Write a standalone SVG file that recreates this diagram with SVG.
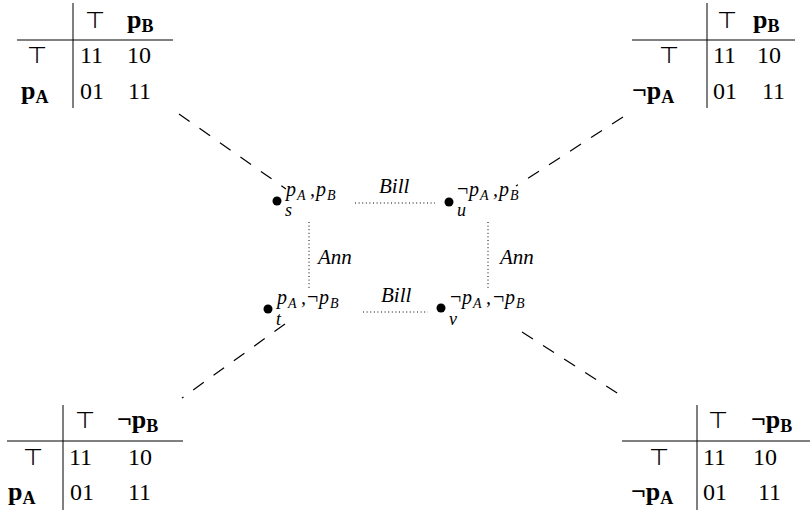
<svg xmlns="http://www.w3.org/2000/svg" width="810" height="513" viewBox="0 0 810 513">
<style>
text{font-family:'Liberation Serif','DejaVu Serif',serif;fill:#000}
.t{font-size:24px}
.top{font-family:'DejaVu Sans',sans-serif;font-size:23px;font-weight:200;text-anchor:middle}
.b{font-weight:bold;font-size:26px}
.bs{font-size:18px}
.rule{stroke:#000;stroke-width:1}
.dash{stroke:#000;stroke-width:1.2;stroke-dasharray:13 12;fill:none}
.dot{stroke:#000;stroke-width:1;stroke-dasharray:1 2.6;fill:none}
.lab{font-style:italic;font-size:20px}
.sub{font-size:14px}
.wn{font-style:italic;font-size:18px}
.ag{font-style:italic;font-size:21px}
</style>
<g id="table-tl">
<line class="rule" x1="73" y1="3" x2="73" y2="108"/>
<line class="rule" x1="17" y1="40" x2="173" y2="40"/>
<text class="top" x="95" y="28">⊤</text>
<text class="b" x="127" y="28">p<tspan class="bs" dy="4">B</tspan></text>
<text class="top" x="37" y="63">⊤</text>
<text class="t" x="80" y="63">11</text>
<text class="t" x="127" y="63">10</text>
<text class="b" x="21" y="99">p<tspan class="bs" dy="4">A</tspan></text>
<text class="t" x="80" y="99">01</text>
<text class="t" x="128" y="99">11</text>
</g>
<g id="table-tr">
<line class="rule" x1="707" y1="3" x2="707" y2="108"/>
<line class="rule" x1="632" y1="40" x2="795" y2="40"/>
<text class="top" x="727" y="28">⊤</text>
<text class="b" x="753" y="28">p<tspan class="bs" dy="4">B</tspan></text>
<text class="top" x="669" y="63">⊤</text>
<text class="t" x="713" y="63">11</text>
<text class="t" x="757" y="63">10</text>
<text class="b" x="632" y="99">¬p<tspan class="bs" dy="4">A</tspan></text>
<text class="t" x="713" y="99">01</text>
<text class="t" x="762" y="99">11</text>
</g>
<g id="table-bl">
<line class="rule" x1="63" y1="405" x2="63" y2="510"/>
<line class="rule" x1="7" y1="441" x2="183" y2="441"/>
<text class="top" x="85" y="428">⊤</text>
<text class="b" x="117" y="428">¬p<tspan class="bs" dy="4">B</tspan></text>
<text class="top" x="33" y="465">⊤</text>
<text class="t" x="69" y="465">11</text>
<text class="t" x="128" y="465">10</text>
<text class="b" x="8" y="500">p<tspan class="bs" dy="4">A</tspan></text>
<text class="t" x="70" y="500">01</text>
<text class="t" x="128" y="500">11</text>
</g>
<g id="table-br">
<line class="rule" x1="697" y1="405" x2="697" y2="510"/>
<line class="rule" x1="622" y1="441" x2="810" y2="441"/>
<text class="top" x="718" y="428">⊤</text>
<text class="b" x="751" y="428">¬p<tspan class="bs" dy="4">B</tspan></text>
<text class="top" x="659" y="465">⊤</text>
<text class="t" x="703" y="465">11</text>
<text class="t" x="753" y="465">10</text>
<text class="b" x="631" y="500">¬p<tspan class="bs" dy="4">A</tspan></text>
<text class="t" x="703" y="500">01</text>
<text class="t" x="758" y="500">11</text>
</g>
<g id="connectors">
<line class="dash" x1="179" y1="114" x2="286" y2="189"/>
<line class="dash" x1="623" y1="117" x2="516" y2="186"/>
<line class="dash" x1="285" y1="324" x2="182" y2="398"/>
<line class="dash" x1="522" y1="332" x2="625" y2="398"/>
<line class="dot" x1="355" y1="203" x2="435" y2="203"/>
<line class="dot" x1="363" y1="312" x2="428" y2="312"/>
<line class="dot" x1="309" y1="222" x2="309" y2="288"/>
<line class="dot" x1="488" y1="222" x2="488" y2="288"/>
<text class="ag" x="379" y="193">Bill</text>
<text class="ag" x="381" y="302">Bill</text>
<text class="ag" x="318" y="264">Ann</text>
<text class="ag" x="500" y="264">Ann</text>
</g>
<g id="node-s">
<circle cx="277" cy="201" r="4.5"/>
<text class="lab" y="196"><tspan x="286">p</tspan><tspan class="sub" x="297" dy="4">A</tspan><tspan x="310" dy="-4">,</tspan><tspan x="316">p</tspan><tspan class="sub" x="327" dy="4">B</tspan></text>
<text class="wn" x="285" y="216">s</text>
</g>
<g id="node-u">
<circle cx="449" cy="202" r="4.5"/>
<text class="lab" y="196"><tspan x="457" font-style="normal">¬</tspan><tspan x="469">p</tspan><tspan class="sub" x="480" dy="4">A</tspan><tspan x="493" dy="-4">,</tspan><tspan x="499">p</tspan><tspan class="sub" x="510" dy="4">B</tspan></text>
<text class="wn" x="457" y="216">u</text>
</g>
<g id="node-t">
<circle cx="268" cy="309" r="4.5"/>
<text class="lab" y="304"><tspan x="277">p</tspan><tspan class="sub" x="288" dy="4">A</tspan><tspan x="301" dy="-4">,</tspan><tspan x="307" font-style="normal">¬</tspan><tspan x="319">p</tspan><tspan class="sub" x="330" dy="4">B</tspan></text>
<text class="wn" x="276" y="325">t</text>
</g>
<g id="node-v">
<circle cx="441" cy="308" r="4.5"/>
<text class="lab" y="304"><tspan x="450" font-style="normal">¬</tspan><tspan x="462">p</tspan><tspan class="sub" x="473" dy="4">A</tspan><tspan x="486" dy="-4">,</tspan><tspan x="493" font-style="normal">¬</tspan><tspan x="505">p</tspan><tspan class="sub" x="516" dy="4">B</tspan></text>
<text class="wn" x="449" y="325">v</text>
</g>
</svg>
